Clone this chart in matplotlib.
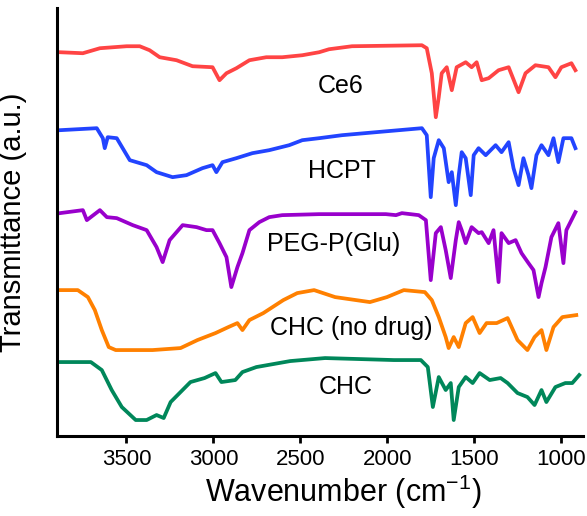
import numpy as np
import matplotlib
matplotlib.use("Agg")
import matplotlib.pyplot as plt

plt.rcParams['font.family'] = ['Liberation Sans', 'DejaVu Sans']
plt.rcParams['mathtext.fontset'] = 'custom'
plt.rcParams['mathtext.rm'] = 'Liberation Sans'
plt.rcParams['mathtext.default'] = 'regular'

# ─────────────────────────────────────────
# Spettri FTIR (unita arbitrarie, gia traslati)
# ─────────────────────────────────────────

ce6_wn = [3883, 3751, 3653, 3499, 3424, 3367, 3309, 3212, 3120, 3005, 2965, 2925,
          2868, 2793, 2696, 2604, 2489, 2392, 2335, 2203, 1801, 1773, 1744, 1721,
          1704, 1687, 1658, 1629, 1601, 1549, 1515, 1486, 1457, 1417, 1360, 1302,
          1245, 1205, 1148, 1073, 1033, 999, 941, 918]
ce6_t = [38.4, 38.3, 38.8, 39.0, 39.0, 38.6, 37.9, 37.6, 37.0, 36.9, 35.6, 36.3,
         36.8, 37.6, 37.9, 37.9, 38.1, 38.4, 38.7, 39.0, 39.1, 38.8, 36.3, 31.9,
         33.9, 36.3, 36.9, 34.6, 36.9, 37.4, 36.9, 37.4, 35.6, 35.8, 36.6, 36.9,
         34.4, 36.3, 37.1, 36.9, 35.9, 36.9, 37.3, 36.6]

hcpt_wn = [3883, 3671, 3636, 3625, 3608, 3556, 3522, 3481, 3384, 3327, 3235, 3155,
           3063, 3005, 2983, 2948, 2868, 2776, 2679, 2564, 2489, 2392, 2260, 2065,
           1801, 1773, 1750, 1733, 1704, 1675, 1647, 1629, 1606, 1589, 1572, 1549,
           1520, 1503, 1475, 1434, 1377, 1343, 1302, 1274, 1245, 1217, 1188, 1171,
           1142, 1113, 1073, 1044, 1016, 987, 941, 918]
hcpt_t = [30.6, 30.8, 29.8, 28.8, 29.9, 29.8, 28.8, 27.6, 27.1, 26.4, 25.9, 26.1,
          26.8, 27.1, 26.4, 27.4, 27.8, 28.3, 28.6, 29.1, 29.6, 29.8, 30.1, 30.4,
          30.8, 30.1, 23.9, 27.8, 29.6, 28.8, 25.4, 26.4, 23.1, 26.1, 28.4, 27.8,
          24.1, 28.1, 28.8, 28.1, 29.1, 28.4, 29.4, 26.8, 25.1, 27.8, 26.1, 24.8,
          28.1, 29.1, 28.1, 29.8, 27.4, 29.8, 29.8, 28.8]

peg_wn = [3883, 3751, 3728, 3653, 3613, 3556, 3464, 3384, 3327, 3292, 3252, 3177,
          3097, 3040, 3005, 2965, 2925, 2897, 2862, 2833, 2793, 2736, 2679, 2604,
          2392, 2163, 2008, 1950, 1916, 1819, 1778, 1750, 1721, 1692, 1664, 1635,
          1606, 1589, 1572, 1549, 1515, 1475, 1457, 1417, 1389, 1360, 1343, 1302,
          1262, 1228, 1188, 1159, 1130, 1113, 1090, 1056, 1016, 987, 970, 941, 918]
peg_t = [22.3, 22.6, 21.6, 22.6, 21.9, 21.8, 21.1, 20.6, 18.9, 17.4, 19.6, 21.1,
         20.9, 20.6, 20.6, 19.3, 17.9, 14.9, 16.9, 18.3, 20.6, 21.4, 21.9, 22.1,
         22.2, 22.2, 22.2, 22.1, 22.3, 22.1, 21.6, 15.6, 20.3, 20.9, 18.6, 15.8,
         19.6, 21.4, 20.6, 19.3, 20.9, 20.3, 20.4, 19.3, 20.6, 15.4, 20.3, 19.3,
         19.6, 18.3, 17.3, 16.6, 13.9, 15.3, 16.9, 19.9, 21.3, 17.3, 20.6, 21.6, 22.4]

chc0_wn = [3883, 3780, 3722, 3682, 3642, 3602, 3562, 3350, 3189, 3092, 2988, 2914,
           2862, 2833, 2793, 2713, 2598, 2518, 2421, 2300, 2100, 2002, 1905, 1784,
           1744, 1704, 1664, 1647, 1618, 1589, 1549, 1509, 1469, 1429, 1371, 1308,
           1251, 1194, 1153, 1113, 1085, 1044, 993, 913]
chc0_t = [14.6, 14.6, 13.9, 12.6, 10.6, 8.9, 8.6, 8.6, 8.8, 9.6, 10.3, 10.9,
          11.3, 10.6, 11.6, 12.3, 13.6, 14.3, 14.6, 13.9, 13.4, 13.9, 14.6, 14.4,
          13.6, 11.9, 9.9, 8.8, 9.9, 8.9, 11.3, 11.9, 10.3, 11.3, 11.3, 11.8,
          9.6, 8.6, 9.9, 10.6, 8.6, 10.9, 11.9, 12.1]

chc_wn = [3883, 3705, 3642, 3585, 3527, 3447, 3384, 3327, 3286, 3246, 3132, 3051,
          2988, 2954, 2874, 2833, 2753, 2558, 2358, 1962, 1807, 1767, 1738, 1704,
          1664, 1635, 1618, 1589, 1549, 1509, 1469, 1411, 1348, 1308, 1251, 1194,
          1153, 1113, 1085, 1033, 976, 936, 896]
chc_t = [7.4, 7.4, 6.6, 4.6, 2.9, 1.6, 1.6, 2.1, 1.8, 3.4, 5.4, 5.8,
         6.3, 5.4, 5.6, 6.4, 6.9, 7.5, 7.8, 7.6, 7.6, 6.9, 2.9, 5.9,
         4.6, 5.3, 1.6, 4.9, 5.9, 5.3, 6.3, 5.6, 5.8, 5.3, 4.3, 3.9,
         3.1, 4.6, 3.4, 4.9, 5.3, 5.3, 6.1]

names = ["Ce6", "HCPT", "PEG-P(Glu)", "CHC (no drug)", "CHC"]
colors = ["#FF4444", "#2244FF", "#9900CC", "#FF8000", "#00875A"]
label_wn = [2266, 2260, 2306, 2208, 2237]
label_t = [35.0, 26.5, 19.2, 10.8, 4.9]

tick_wn = [3500, 3000, 2500, 2000, 1500, 1000]

# ─────────────────────────────────────────
# Plot
# ─────────────────────────────────────────

fig = plt.figure(figsize=(5.87, 5.16), dpi=100)
ax = fig.add_axes([0.097, 0.155, 0.896, 0.829])

series = [(ce6_wn, ce6_t), (hcpt_wn, hcpt_t), (peg_wn, peg_t),
          (chc0_wn, chc0_t), (chc_wn, chc_t)]
for (wn, t), c in zip(series, colors):
    ax.plot(wn, t, color=c, lw=2.7, solid_joinstyle="round")

for name, x, y in zip(names, label_wn, label_t):
    ax.text(x, y, name, fontsize=18, ha="center", va="center")

ax.set_xlim(3900, 875)
ax.set_ylim(0, 42.8)
ax.set_xticks(tick_wn)
ax.set_yticks([])
ax.tick_params(axis="x", direction="out", length=5, width=2, labelsize=16, pad=4)

for s in ["top", "right"]:
    ax.spines[s].set_visible(False)
for s in ["left", "bottom"]:
    ax.spines[s].set_linewidth(2.2)

ax.set_xlabel("Wavenumber (cm$^{-1}$)", fontsize=22)
ax.xaxis.set_label_coords(0.545, -0.085)
ax.set_ylabel("Transmittance (a.u.)", fontsize=21)
ax.yaxis.set_label_coords(-0.056, 0.5)

fig.savefig("out.png", dpi=100)
